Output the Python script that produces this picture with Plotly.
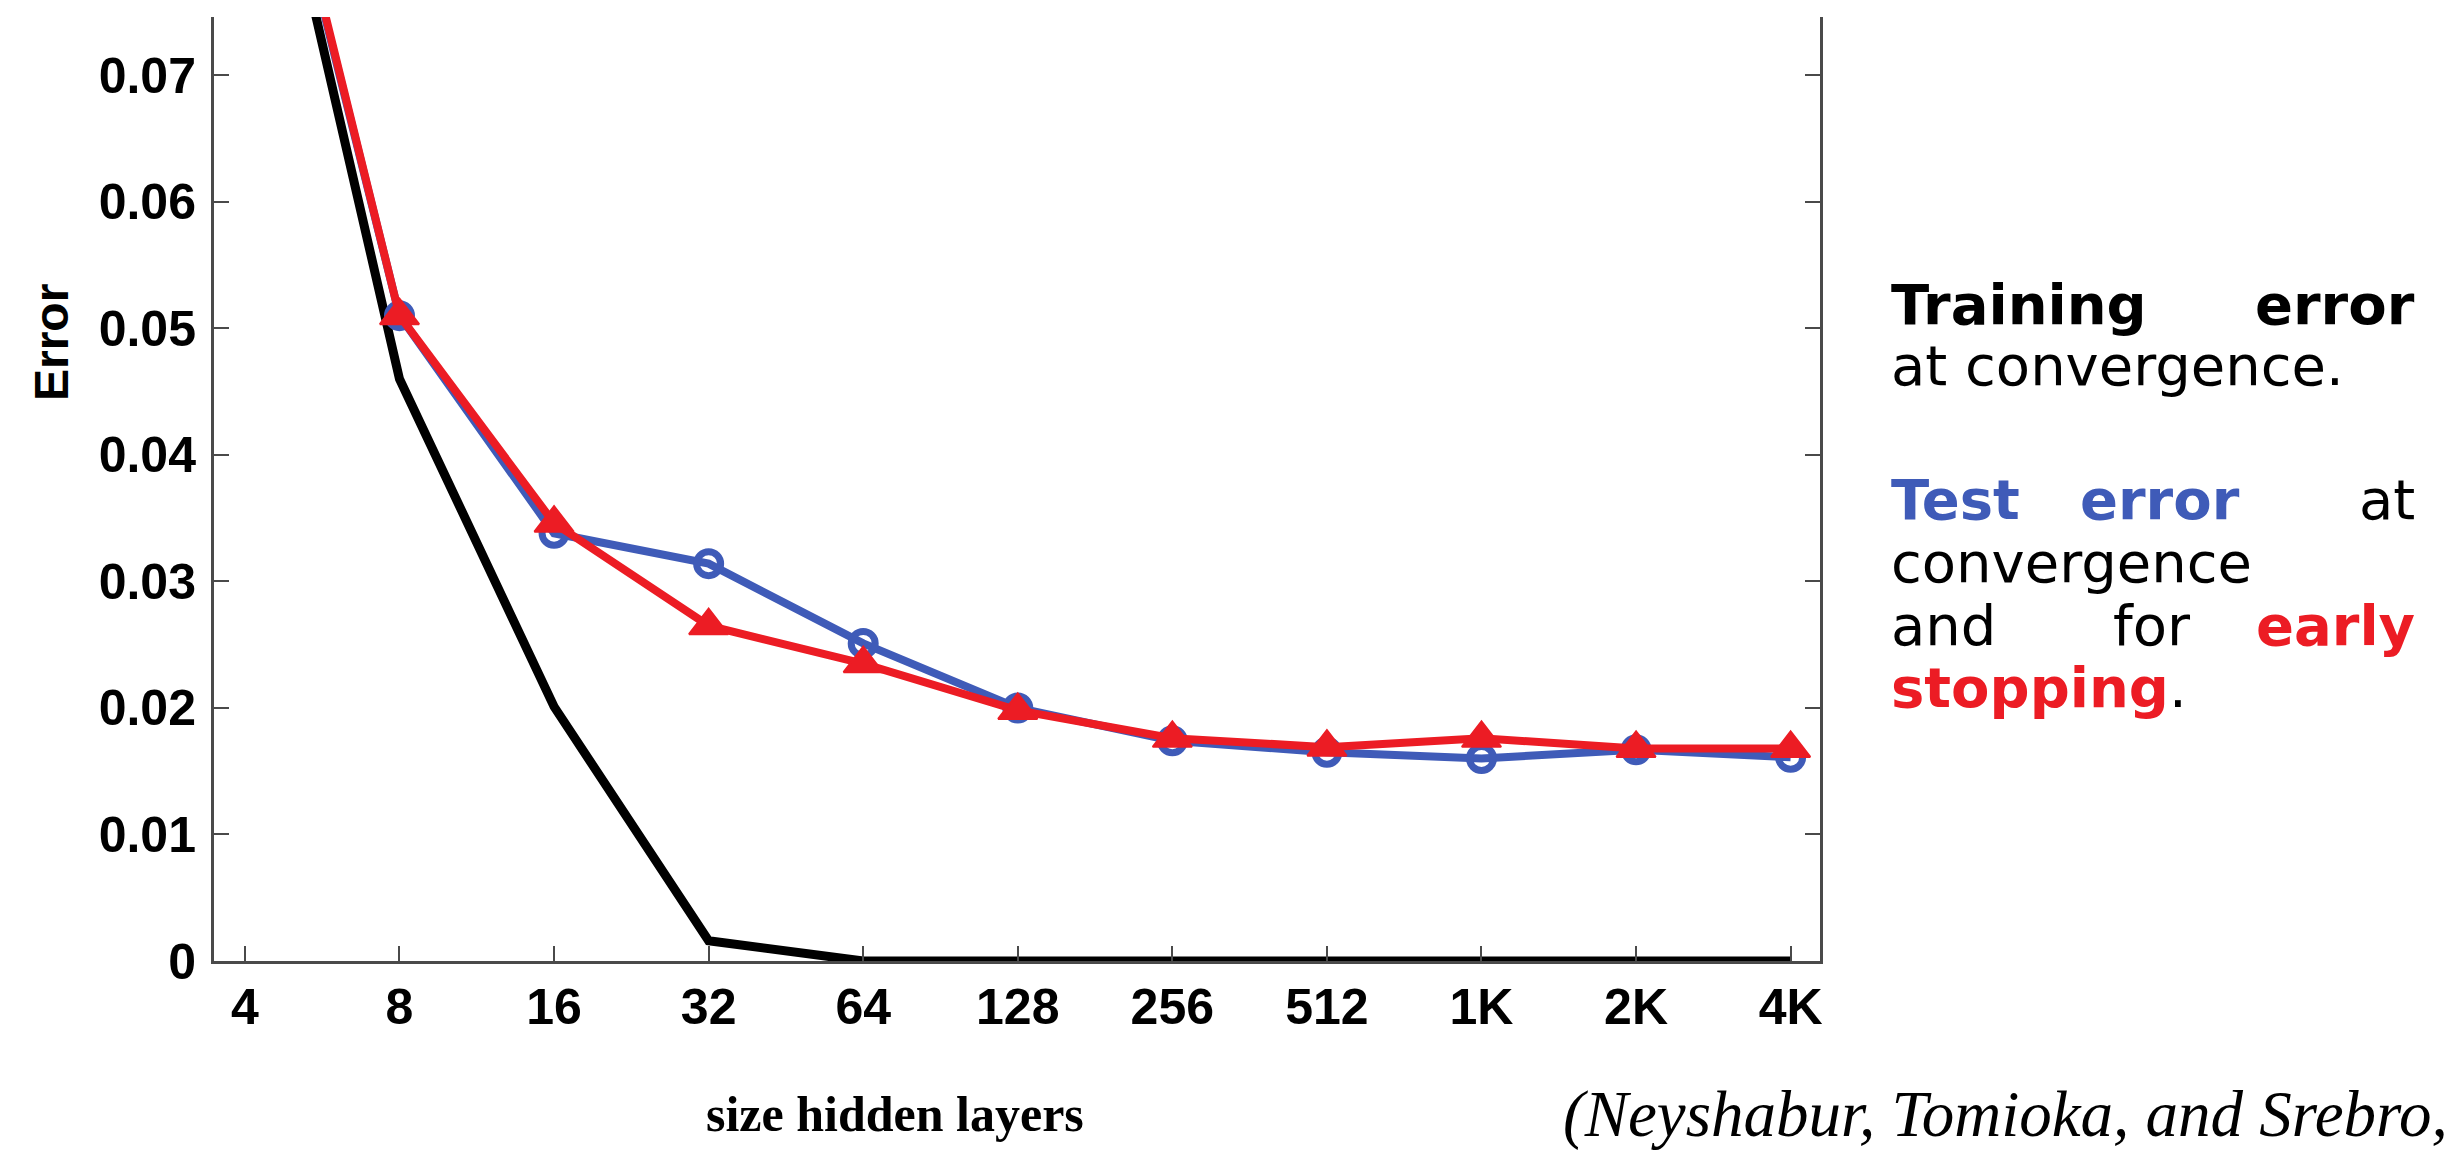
import plotly.graph_objects as go
import math

# ---- data ----
hidden_sizes = [4, 8, 16, 32, 64, 128, 256, 512, 1024, 2048, 4096]
size_labels = ["4", "8", "16", "32", "64", "128", "256", "512", "1K", "2K", "4K"]
train_error = [0.099, 0.0460, 0.0201, 0.0016, 0.0, 0.0, 0.0, 0.0, 0.0, 0.0, 0.0]
test_error = [0.1000, 0.0510, 0.0338, 0.0314, 0.0251, 0.0200, 0.0174, 0.0165, 0.0160, 0.0167, 0.0161]
early_stop_error = [0.1005, 0.0510, 0.0346, 0.0265, 0.0235, 0.0198, 0.0176, 0.0169, 0.0176, 0.0168, 0.0168]
y_ticks = [0, 0.01, 0.02, 0.03, 0.04, 0.05, 0.06, 0.07]
y_tick_labels = ["0", "0.01", "0.02", "0.03", "0.04", "0.05", "0.06", "0.07"]

W, H = 2448, 1152
L, R, T, B = 214, 1820, 17, 961

BLUE = "#3F5BB8"
RED = "#EC1C24"

fig = go.Figure()
fig.add_trace(go.Scatter(x=hidden_sizes, y=train_error, mode="lines",
                         line=dict(color="black", width=9), showlegend=False))
fig.add_trace(go.Scatter(x=hidden_sizes, y=test_error, mode="lines+markers",
                         line=dict(color=BLUE, width=8),
                         marker=dict(symbol="circle-open", size=24, color=BLUE,
                                     line=dict(width=7, color=BLUE)),
                         showlegend=False))
fig.add_trace(go.Scatter(x=hidden_sizes, y=early_stop_error, mode="lines+markers",
                         line=dict(color=RED, width=8),
                         marker=dict(symbol="triangle-up", size=34, color=RED,
                                     line=dict(width=2, color=RED)),
                         showlegend=False))

x_lo = math.log10(2 ** 1.80)
x_hi = math.log10(2 ** 12.19)

axis_col = "#4a4a4a"
fig.update_xaxes(type="log", range=[x_lo, x_hi], tickvals=hidden_sizes, ticktext=size_labels,
                 ticks="inside", ticklen=15, tickwidth=2, tickcolor=axis_col,
                 showline=True, linecolor=axis_col, linewidth=3, mirror=False,
                 showgrid=False, zeroline=False,
                 tickfont=dict(family="Liberation Sans", size=50, color="black", weight="bold"),
                 ticklabelstandoff=0)
fig.update_yaxes(range=[0, 0.0746], tickvals=y_ticks, ticktext=y_tick_labels,
                 ticks="inside", ticklen=15, tickwidth=2, tickcolor=axis_col,
                 showline=True, linecolor=axis_col, linewidth=3, mirror="ticks",
                 showgrid=False, zeroline=False,
                 tickfont=dict(family="Liberation Sans", size=50, color="black", weight="bold"),
                 ticklabelstandoff=5)


def px(x):
    return (x - L) / (R - L)


def py(y):
    return (B - y) / (B - T)


annotations = []

def word(text, x, y, anchor="left", size=56, color="black", bold=False, family="DejaVu Sans"):
    annotations.append(dict(text=text, x=px(x), y=py(y), xref="paper", yref="paper",
                            xanchor=anchor, yanchor="middle", showarrow=False,
                            font=dict(family=family, size=size, color=color,
                                      weight="bold" if bold else "normal")))

off = 18
word("Training", 1889, 323 - off, bold=True)
word("error", 2417, 323 - off, anchor="right", bold=True)
word("at convergence.", 1889, 384 - off)
word("Test", 1889, 517 - off, bold=True, color=BLUE)
word("error", 2078, 517 - off, bold=True, color=BLUE)
word("at", 2417, 517 - off, anchor="right")
word("convergence", 1889, 580 - off)
word("and", 1889, 643 - off)
word("for", 2111, 643 - off)
word("early", 2417, 643 - off, anchor="right", bold=True, color=RED)
word("<b><span style='color:%s'>stopping</span></b>." % RED, 1889, 705 - off)

# y-axis title
annotations.append(dict(text="<b>Error</b>", x=px(52), y=py(343), xref="paper", yref="paper",
                        xanchor="center", yanchor="middle", showarrow=False, textangle=-90,
                        font=dict(family="Liberation Sans", size=48, color="black")))
# bottom texts
annotations.append(dict(text="<b>size hidden layers</b>", x=px(895), y=py(1114), xref="paper", yref="paper",
                        xanchor="center", yanchor="middle", showarrow=False,
                        font=dict(family="Liberation Serif", size=50, color="black")))
annotations.append(dict(text="<i>(Neyshabur, Tomioka, and Srebro,</i>", x=px(1561), y=py(1114), xref="paper", yref="paper",
                        xanchor="left", yanchor="middle", showarrow=False,
                        font=dict(family="Liberation Serif", size=65, color="black")))

fig.update_layout(width=W, height=H, margin=dict(l=L, r=W - R, t=T, b=H - B),
                  paper_bgcolor="white", plot_bgcolor="white",
                  annotations=annotations, showlegend=False)

fig.write_html("out.html")
